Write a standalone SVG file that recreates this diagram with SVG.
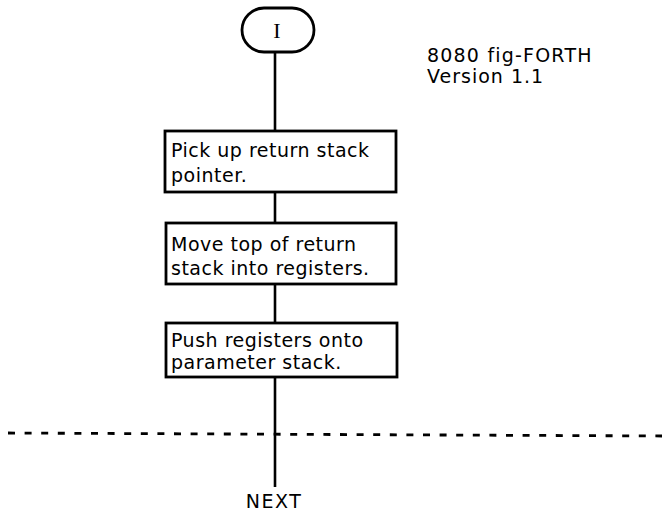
<svg xmlns="http://www.w3.org/2000/svg" width="662" height="512" viewBox="0 0 662 512">
<style>
.box{fill:#fff;stroke:#000;stroke-width:2.8}
.t{font-family:"DejaVu Sans","Liberation Sans",sans-serif;font-size:19px;letter-spacing:0.5px;fill:#000}
.conn line{stroke:#000;stroke-width:2.6}
</style>
<rect width="662" height="512" fill="#fff"/>
<g id="connectors" class="conn">
<line x1="275" y1="52" x2="275" y2="131"/>
<line x1="275" y1="192" x2="275" y2="223"/>
<line x1="275" y1="284" x2="275" y2="323"/>
<line x1="275" y1="377" x2="275" y2="487"/>
</g>
<line x1="8" y1="433" x2="662" y2="436" stroke="#000" stroke-width="2.8" stroke-dasharray="7 9.6"/>
<g id="start">
<rect class="box" x="242" y="8" width="72" height="44" rx="22"/>
<text x="277" y="38" font-family="Liberation Serif,serif" font-size="22" text-anchor="middle">I</text>
</g>
<g id="header">
<text class="t" x="427" y="62" style="letter-spacing:1.2px">8080 fig-FORTH</text>
<text class="t" x="427" y="83" style="letter-spacing:1px">Version 1.1</text>
</g>
<g id="box1">
<rect class="box" x="165" y="131" width="231" height="61"/>
<text class="t" x="171" y="157">Pick up return stack</text>
<text class="t" x="171" y="182">pointer.</text>
</g>
<g id="box2">
<rect class="box" x="166" y="223" width="230" height="61"/>
<text class="t" x="171" y="251">Move top of return</text>
<text class="t" x="171" y="275">stack into registers.</text>
</g>
<g id="box3">
<rect class="box" x="166" y="323" width="231" height="54"/>
<text class="t" x="171" y="347">Push registers onto</text>
<text class="t" x="171" y="369">parameter stack.</text>
</g>
<g id="next">
<text class="t" x="274" y="508" text-anchor="middle" style="letter-spacing:1.5px">NEXT</text>
</g>
</svg>
